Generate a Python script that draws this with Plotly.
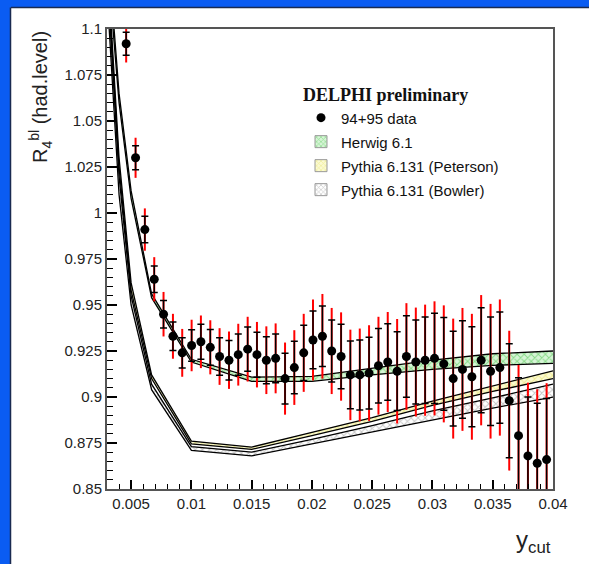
import plotly.graph_objects as go

# measured points (94+95 data)
ycut = [0.00459, 0.00537, 0.00614, 0.00692, 0.00769, 0.00847, 0.00924, 0.01002, 0.01079, 0.01157,
        0.01234, 0.01312, 0.01389, 0.01467, 0.01544, 0.01622, 0.01699, 0.01777, 0.01854, 0.01932,
        0.02009, 0.02087, 0.02164, 0.02242, 0.02319, 0.02397, 0.02474, 0.02552, 0.02629, 0.02707,
        0.02784, 0.02862, 0.02939, 0.03017, 0.03094, 0.03172, 0.03249, 0.03327, 0.03404, 0.03482,
        0.03559, 0.03637, 0.03714, 0.03792, 0.03869, 0.03947]
r4 = [1.092, 1.030, 0.991, 0.964, 0.945, 0.933, 0.924, 0.928, 0.930, 0.927,
      0.922, 0.920, 0.923, 0.926, 0.923, 0.920, 0.921, 0.910, 0.916, 0.924,
      0.931, 0.933, 0.925, 0.922, 0.912, 0.912, 0.913, 0.917, 0.919, 0.914,
      0.922, 0.919, 0.920, 0.921, 0.918, 0.910, 0.915, 0.911, 0.920, 0.914,
      0.916, 0.898, 0.879, 0.868, 0.864, 0.866]
err_stat = [0.0062, 0.0065, 0.0072, 0.0072, 0.0075, 0.0077, 0.0082, 0.0086, 0.0095, 0.0097,
            0.0102, 0.0107, 0.0112, 0.0120, 0.0122, 0.0128, 0.0133, 0.0138, 0.0143, 0.0150,
            0.0157, 0.0164, 0.0168, 0.0175, 0.0184, 0.0190, 0.0195, 0.0202, 0.0208, 0.0214,
            0.0222, 0.0228, 0.0235, 0.0245, 0.0252, 0.0258, 0.0265, 0.0272, 0.0285, 0.0295,
            0.0302, 0.0310, 0.0315, 0.0320, 0.0326, 0.0332]
err_tot = [0.0102, 0.0109, 0.0115, 0.0120, 0.0121, 0.0122, 0.0130, 0.0140, 0.0143, 0.0147,
           0.0154, 0.0156, 0.0168, 0.0176, 0.0178, 0.0184, 0.0190, 0.0196, 0.0203, 0.0212,
           0.0220, 0.0230, 0.0234, 0.0240, 0.0246, 0.0252, 0.0260, 0.0266, 0.0272, 0.0284,
           0.0290, 0.0296, 0.0302, 0.0310, 0.0318, 0.0326, 0.0334, 0.0342, 0.0354, 0.0366,
           0.0370, 0.0380, 0.0384, 0.0398, 0.0402, 0.0415]

# MC prediction bands (lower / upper edges)
mc_ycut = [0.003, 0.004, 0.005, 0.0067, 0.01, 0.015, 0.02, 0.025, 0.03, 0.035, 0.04]
herwig_hi = [1.150, 1.065, 1.012, 0.956, 0.9205, 0.9108, 0.9112, 0.9155, 0.9200, 0.9235, 0.9250]
herwig_lo = [1.140, 1.060, 1.008, 0.954, 0.9190, 0.9085, 0.9085, 0.9120, 0.9150, 0.9172, 0.9183]
peterson_hi = [1.140, 1.030, 0.962, 0.912, 0.8760, 0.8728, 0.8808, 0.8888, 0.8978, 0.9060, 0.9142]
peterson_lo = [1.135, 1.025, 0.958, 0.910, 0.8745, 0.8715, 0.8790, 0.8868, 0.8955, 0.9030, 0.9100]
bowler_hi = [1.130, 1.020, 0.955, 0.907, 0.8730, 0.8700, 0.8770, 0.8845, 0.8925, 0.8995, 0.9070]
bowler_lo = [1.120, 1.010, 0.950, 0.904, 0.8710, 0.8680, 0.8745, 0.8810, 0.8875, 0.8940, 0.8999]

bands = [
    ("Pythia 6.131 (Bowler)", bowler_lo, bowler_hi, "#8a8a8a", "white"),
    ("Pythia 6.131 (Peterson)", peterson_lo, peterson_hi, "#e2dc55", "#fbfad2"),
    ("Herwig 6.1", herwig_lo, herwig_hi, "#3cbf3c", "#d6f5d6"),
]

fig = go.Figure()

# hatched fills
for name, lo, hi, fg, bg in bands:
    fig.add_trace(go.Scatter(
        x=mc_ycut + mc_ycut[::-1], y=hi + lo[::-1],
        mode="lines", fill="toself", line=dict(width=0),
        fillcolor=bg,
        fillpattern=dict(shape="x", fgcolor=fg, bgcolor=bg, size=5, solidity=0.35),
        showlegend=False, hoverinfo="skip"
    ))

# band edges
for name, lo, hi, fg, bg in bands:
    for edge in (lo, hi):
        fig.add_trace(go.Scatter(
            x=mc_ycut, y=edge, mode="lines",
            line=dict(color="black", width=1.3),
            showlegend=False, hoverinfo="skip"
        ))

# total errors (red) under stat errors (black)
fig.add_trace(go.Scatter(
    x=ycut, y=r4, mode="markers",
    marker=dict(size=1, color="rgba(0,0,0,0)"),
    error_y=dict(type="data", array=err_tot, color="red", thickness=2, width=0),
    showlegend=False, hoverinfo="skip"
))
fig.add_trace(go.Scatter(
    x=ycut, y=r4, mode="markers", name="94+95 data",
    marker=dict(size=9, color="black"),
    error_y=dict(type="data", array=err_stat, color="black", thickness=1.5, width=3.5),
    legendgroup="a"
))

# legend-only swatches
for name, lo, hi, fg, bg in bands[::-1]:
    fig.add_trace(go.Bar(
        x=[None], y=[None], name=name, legendgroup=name,
        marker=dict(color=bg, line=dict(color="#999999", width=1),
                    pattern=dict(shape="x", fgcolor=fg, bgcolor=bg, size=4, solidity=0.35))
    ))

L, R, T, B = 107, 36, 29, 75
W, H = 589, 564
pw, ph = W - L - R, H - T - B
px = lambda v: (v - L) / pw
py = lambda v: (H - B - v) / ph

blue = "#0a5cf2"
fig.add_shape(type="rect", xref="paper", yref="paper", x0=px(0), x1=px(11), y0=py(H), y1=py(0),
              fillcolor=blue, line=dict(width=0), layer="above")
fig.add_shape(type="rect", xref="paper", yref="paper", x0=px(0), x1=px(W), y0=py(7), y1=py(0),
              fillcolor=blue, line=dict(width=0), layer="above")
fig.add_shape(type="line", xref="paper", yref="paper", x0=px(11), x1=px(W), y0=py(7.5), y1=py(7.5),
              line=dict(color="#1a2a50", width=1.5), layer="above")
fig.add_shape(type="line", xref="paper", yref="paper", x0=px(10.5), x1=px(10.5), y0=py(H), y1=py(7.5),
              line=dict(color="#1a2a50", width=1.5), layer="above")

fig.add_annotation(text="R<sub>4</sub><sup>bl</sup> (had.level)", xref="paper", yref="paper",
                   x=px(40), y=py(97), textangle=-90, showarrow=False,
                   xanchor="center", yanchor="middle",
                   font=dict(family="Liberation Sans, Arial", size=20, color="#222"))
fig.add_annotation(text="y<sub>cut</sub>", xref="paper", yref="paper",
                   x=1.0, y=py(541), showarrow=False, xanchor="right", yanchor="middle",
                   font=dict(family="Liberation Sans, Arial", size=24, color="#222"))

axis_common = dict(
    showgrid=False, zeroline=False, showline=True, linecolor="#555", linewidth=2, mirror=True,
    ticks="inside", tickcolor="black", tickwidth=1.5,
    tickfont=dict(family="Liberation Sans, Arial", size=15, color="#222"),
)
fig.update_xaxes(range=[0.003, 0.04], tickmode="linear", tick0=0, dtick=0.005, ticklen=9,
                 minor=dict(ticks="inside", dtick=0.001, tick0=0, ticklen=5, tickcolor="black",
                            tickwidth=1.2, showgrid=False),
                 **axis_common)
fig.update_yaxes(range=[0.85, 1.1], tickmode="linear", tick0=0, dtick=0.025, ticklen=10,
                 minor=dict(ticks="inside", dtick=0.005, tick0=0, ticklen=6, tickcolor="black",
                            tickwidth=1.2, showgrid=False),
                 **axis_common)

fig.update_layout(
    width=W, height=H,
    margin=dict(l=L, r=R, t=T, b=B),
    paper_bgcolor="white", plot_bgcolor="white",
    showlegend=True,
    legend=dict(
        x=px(301), y=py(78), xanchor="left", yanchor="top",
        bgcolor="rgba(0,0,0,0)", tracegroupgap=1.5,
        title=dict(text="<b>DELPHI preliminary</b>",
                   font=dict(family="Liberation Serif, Times New Roman", size=18, color="#111")),
        font=dict(family="Liberation Sans, Arial", size=15, color="#111"),
    ),
)

fig.write_html("out.html", config={"displayModeBar": False},
               post_script="document.body.style.margin='0';document.body.style.overflow='hidden';")
